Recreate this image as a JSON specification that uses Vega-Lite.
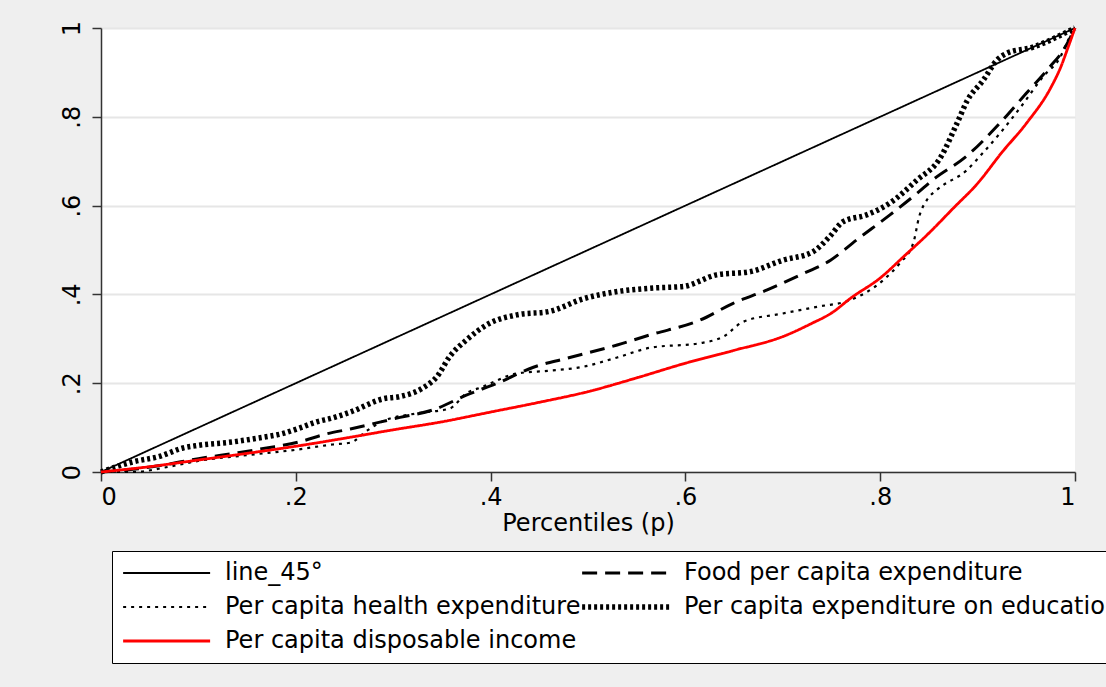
{
  "$schema": "https://vega.github.io/schema/vega-lite/v6.json",
  "width": 974,
  "height": 444,
  "autosize": {"type": "none"},
  "padding": {"left": 101, "top": 28, "right": 31, "bottom": 215},
  "background": "#efefef",
  "config": {
    "view": {"stroke": null, "fill": "white"},
    "font": "DejaVu Sans",
    "axis": {"labelFont": "DejaVu Sans", "titleFont": "DejaVu Sans", "labelColor": "black", "titleColor": "black", "domainColor": "#333333", "tickColor": "#333333", "tickSize": 9, "domainWidth": 1.5, "tickWidth": 1.5}
  },
  "data": {"values": [
    {"p": 0, "v": 0, "s": "line_45°"}, {"p": 1, "v": 1, "s": "line_45°"},

    {"p": 0, "v": 0, "s": "Food per capita expenditure"},
    {"p": 0.033, "v": 0.006, "s": "Food per capita expenditure"},
    {"p": 0.07, "v": 0.018, "s": "Food per capita expenditure"},
    {"p": 0.1, "v": 0.03, "s": "Food per capita expenditure"},
    {"p": 0.136, "v": 0.042, "s": "Food per capita expenditure"},
    {"p": 0.17, "v": 0.054, "s": "Food per capita expenditure"},
    {"p": 0.204, "v": 0.068, "s": "Food per capita expenditure"},
    {"p": 0.23, "v": 0.085, "s": "Food per capita expenditure"},
    {"p": 0.256, "v": 0.097, "s": "Food per capita expenditure"},
    {"p": 0.307, "v": 0.123, "s": "Food per capita expenditure"},
    {"p": 0.341, "v": 0.14, "s": "Food per capita expenditure"},
    {"p": 0.375, "v": 0.173, "s": "Food per capita expenditure"},
    {"p": 0.41, "v": 0.203, "s": "Food per capita expenditure"},
    {"p": 0.444, "v": 0.236, "s": "Food per capita expenditure"},
    {"p": 0.478, "v": 0.256, "s": "Food per capita expenditure"},
    {"p": 0.53, "v": 0.286, "s": "Food per capita expenditure"},
    {"p": 0.564, "v": 0.309, "s": "Food per capita expenditure"},
    {"p": 0.615, "v": 0.342, "s": "Food per capita expenditure"},
    {"p": 0.649, "v": 0.38, "s": "Food per capita expenditure"},
    {"p": 0.684, "v": 0.41, "s": "Food per capita expenditure"},
    {"p": 0.718, "v": 0.444, "s": "Food per capita expenditure"},
    {"p": 0.749, "v": 0.477, "s": "Food per capita expenditure"},
    {"p": 0.776, "v": 0.523, "s": "Food per capita expenditure"},
    {"p": 0.81, "v": 0.579, "s": "Food per capita expenditure"},
    {"p": 0.838, "v": 0.628, "s": "Food per capita expenditure"},
    {"p": 0.854, "v": 0.658, "s": "Food per capita expenditure"},
    {"p": 0.889, "v": 0.712, "s": "Food per capita expenditure"},
    {"p": 0.923, "v": 0.786, "s": "Food per capita expenditure"},
    {"p": 0.95, "v": 0.853, "s": "Food per capita expenditure"},
    {"p": 0.974, "v": 0.912, "s": "Food per capita expenditure"},
    {"p": 0.988, "v": 0.95, "s": "Food per capita expenditure"},
    {"p": 1, "v": 1, "s": "Food per capita expenditure"},

    {"p": 0, "v": 0, "s": "Per capita health expenditure"},
    {"p": 0.033, "v": 0.0, "s": "Per capita health expenditure"},
    {"p": 0.07, "v": 0.012, "s": "Per capita health expenditure"},
    {"p": 0.1, "v": 0.025, "s": "Per capita health expenditure"},
    {"p": 0.15, "v": 0.038, "s": "Per capita health expenditure"},
    {"p": 0.2, "v": 0.05, "s": "Per capita health expenditure"},
    {"p": 0.238, "v": 0.062, "s": "Per capita health expenditure"},
    {"p": 0.256, "v": 0.066, "s": "Per capita health expenditure"},
    {"p": 0.273, "v": 0.093, "s": "Per capita health expenditure"},
    {"p": 0.29, "v": 0.115, "s": "Per capita health expenditure"},
    {"p": 0.324, "v": 0.132, "s": "Per capita health expenditure"},
    {"p": 0.358, "v": 0.143, "s": "Per capita health expenditure"},
    {"p": 0.375, "v": 0.177, "s": "Per capita health expenditure"},
    {"p": 0.392, "v": 0.192, "s": "Per capita health expenditure"},
    {"p": 0.427, "v": 0.222, "s": "Per capita health expenditure"},
    {"p": 0.46, "v": 0.228, "s": "Per capita health expenditure"},
    {"p": 0.495, "v": 0.237, "s": "Per capita health expenditure"},
    {"p": 0.53, "v": 0.258, "s": "Per capita health expenditure"},
    {"p": 0.564, "v": 0.28, "s": "Per capita health expenditure"},
    {"p": 0.615, "v": 0.29, "s": "Per capita health expenditure"},
    {"p": 0.639, "v": 0.305, "s": "Per capita health expenditure"},
    {"p": 0.659, "v": 0.338, "s": "Per capita health expenditure"},
    {"p": 0.7, "v": 0.357, "s": "Per capita health expenditure"},
    {"p": 0.735, "v": 0.372, "s": "Per capita health expenditure"},
    {"p": 0.769, "v": 0.387, "s": "Per capita health expenditure"},
    {"p": 0.803, "v": 0.432, "s": "Per capita health expenditure"},
    {"p": 0.82, "v": 0.47, "s": "Per capita health expenditure"},
    {"p": 0.834, "v": 0.516, "s": "Per capita health expenditure"},
    {"p": 0.84, "v": 0.575, "s": "Per capita health expenditure"},
    {"p": 0.848, "v": 0.613, "s": "Per capita health expenditure"},
    {"p": 0.858, "v": 0.635, "s": "Per capita health expenditure"},
    {"p": 0.889, "v": 0.68, "s": "Per capita health expenditure"},
    {"p": 0.906, "v": 0.72, "s": "Per capita health expenditure"},
    {"p": 0.923, "v": 0.763, "s": "Per capita health expenditure"},
    {"p": 0.947, "v": 0.83, "s": "Per capita health expenditure"},
    {"p": 0.967, "v": 0.89, "s": "Per capita health expenditure"},
    {"p": 0.985, "v": 0.935, "s": "Per capita health expenditure"},
    {"p": 0.993, "v": 0.973, "s": "Per capita health expenditure"},
    {"p": 1, "v": 1, "s": "Per capita health expenditure"},

    {"p": 0, "v": 0, "s": "Per capita expenditure on education"},
    {"p": 0.033, "v": 0.023, "s": "Per capita expenditure on education"},
    {"p": 0.06, "v": 0.035, "s": "Per capita expenditure on education"},
    {"p": 0.084, "v": 0.054, "s": "Per capita expenditure on education"},
    {"p": 0.1, "v": 0.06, "s": "Per capita expenditure on education"},
    {"p": 0.136, "v": 0.068, "s": "Per capita expenditure on education"},
    {"p": 0.16, "v": 0.076, "s": "Per capita expenditure on education"},
    {"p": 0.187, "v": 0.087, "s": "Per capita expenditure on education"},
    {"p": 0.205, "v": 0.1, "s": "Per capita expenditure on education"},
    {"p": 0.22, "v": 0.112, "s": "Per capita expenditure on education"},
    {"p": 0.238, "v": 0.122, "s": "Per capita expenditure on education"},
    {"p": 0.256, "v": 0.135, "s": "Per capita expenditure on education"},
    {"p": 0.29, "v": 0.165, "s": "Per capita expenditure on education"},
    {"p": 0.307, "v": 0.17, "s": "Per capita expenditure on education"},
    {"p": 0.331, "v": 0.19, "s": "Per capita expenditure on education"},
    {"p": 0.345, "v": 0.215, "s": "Per capita expenditure on education"},
    {"p": 0.358, "v": 0.26, "s": "Per capita expenditure on education"},
    {"p": 0.375, "v": 0.297, "s": "Per capita expenditure on education"},
    {"p": 0.399, "v": 0.335, "s": "Per capita expenditure on education"},
    {"p": 0.427, "v": 0.354, "s": "Per capita expenditure on education"},
    {"p": 0.461, "v": 0.362, "s": "Per capita expenditure on education"},
    {"p": 0.495, "v": 0.39, "s": "Per capita expenditure on education"},
    {"p": 0.529, "v": 0.406, "s": "Per capita expenditure on education"},
    {"p": 0.564, "v": 0.414, "s": "Per capita expenditure on education"},
    {"p": 0.598, "v": 0.418, "s": "Per capita expenditure on education"},
    {"p": 0.632, "v": 0.444, "s": "Per capita expenditure on education"},
    {"p": 0.666, "v": 0.451, "s": "Per capita expenditure on education"},
    {"p": 0.7, "v": 0.477, "s": "Per capita expenditure on education"},
    {"p": 0.731, "v": 0.496, "s": "Per capita expenditure on education"},
    {"p": 0.748, "v": 0.53, "s": "Per capita expenditure on education"},
    {"p": 0.762, "v": 0.564, "s": "Per capita expenditure on education"},
    {"p": 0.786, "v": 0.579, "s": "Per capita expenditure on education"},
    {"p": 0.81, "v": 0.606, "s": "Per capita expenditure on education"},
    {"p": 0.838, "v": 0.658, "s": "Per capita expenditure on education"},
    {"p": 0.861, "v": 0.705, "s": "Per capita expenditure on education"},
    {"p": 0.879, "v": 0.786, "s": "Per capita expenditure on education"},
    {"p": 0.889, "v": 0.835, "s": "Per capita expenditure on education"},
    {"p": 0.906, "v": 0.883, "s": "Per capita expenditure on education"},
    {"p": 0.92, "v": 0.928, "s": "Per capita expenditure on education"},
    {"p": 0.93, "v": 0.943, "s": "Per capita expenditure on education"},
    {"p": 0.957, "v": 0.957, "s": "Per capita expenditure on education"},
    {"p": 0.99, "v": 0.989, "s": "Per capita expenditure on education"},
    {"p": 1, "v": 1, "s": "Per capita expenditure on education"},

    {"p": 0, "v": 0, "s": "Per capita disposable income"},
    {"p": 0.05, "v": 0.012, "s": "Per capita disposable income"},
    {"p": 0.1, "v": 0.027, "s": "Per capita disposable income"},
    {"p": 0.15, "v": 0.042, "s": "Per capita disposable income"},
    {"p": 0.2, "v": 0.058, "s": "Per capita disposable income"},
    {"p": 0.25, "v": 0.076, "s": "Per capita disposable income"},
    {"p": 0.3, "v": 0.095, "s": "Per capita disposable income"},
    {"p": 0.35, "v": 0.113, "s": "Per capita disposable income"},
    {"p": 0.4, "v": 0.135, "s": "Per capita disposable income"},
    {"p": 0.45, "v": 0.157, "s": "Per capita disposable income"},
    {"p": 0.5, "v": 0.181, "s": "Per capita disposable income"},
    {"p": 0.55, "v": 0.212, "s": "Per capita disposable income"},
    {"p": 0.6, "v": 0.245, "s": "Per capita disposable income"},
    {"p": 0.65, "v": 0.274, "s": "Per capita disposable income"},
    {"p": 0.7, "v": 0.305, "s": "Per capita disposable income"},
    {"p": 0.73, "v": 0.335, "s": "Per capita disposable income"},
    {"p": 0.75, "v": 0.358, "s": "Per capita disposable income"},
    {"p": 0.77, "v": 0.392, "s": "Per capita disposable income"},
    {"p": 0.8, "v": 0.437, "s": "Per capita disposable income"},
    {"p": 0.825, "v": 0.487, "s": "Per capita disposable income"},
    {"p": 0.85, "v": 0.538, "s": "Per capita disposable income"},
    {"p": 0.875, "v": 0.594, "s": "Per capita disposable income"},
    {"p": 0.9, "v": 0.65, "s": "Per capita disposable income"},
    {"p": 0.925, "v": 0.72, "s": "Per capita disposable income"},
    {"p": 0.95, "v": 0.785, "s": "Per capita disposable income"},
    {"p": 0.975, "v": 0.865, "s": "Per capita disposable income"},
    {"p": 0.985, "v": 0.91, "s": "Per capita disposable income"},
    {"p": 0.993, "v": 0.957, "s": "Per capita disposable income"},
    {"p": 1, "v": 1, "s": "Per capita disposable income"}
  ]},
  "mark": {"type": "line", "interpolate": "monotone"},
  "encoding": {
    "x": {"field": "p", "type": "quantitative", "scale": {"domain": [0, 1], "nice": false},
      "axis": {"values": [0, 0.2, 0.4, 0.6, 0.8, 1], "grid": false, "title": "Percentiles (p)", "titleFontSize": 24, "titleFontWeight": "normal", "labelFontSize": 24, "labelPadding": 4, "titlePadding": 2,
        "labelExpr": "replace(format(datum.value, '.1~f'), '0.', '.')"}},
    "y": {"field": "v", "type": "quantitative", "scale": {"domain": [0, 1], "nice": false},
      "axis": {"values": [0, 0.2, 0.4, 0.6, 0.8, 1], "grid": true, "gridColor": "#e6e6e6", "gridWidth": 2, "title": null, "labelFontSize": 24, "labelAngle": 270, "labelPadding": 8,
        "labelExpr": "replace(format(datum.value, '.1~f'), '0.', '.')"}},
    "color": {"field": "s", "type": "nominal",
      "scale": {"domain": ["line_45°", "Per capita health expenditure", "Per capita disposable income", "Food per capita expenditure", "Per capita expenditure on education"],
        "range": ["black", "black", "#ff0000", "black", "black"]},
      "legend": {"title": null, "orient": "none", "legendX": 11, "legendY": 523, "direction": "vertical", "columns": 2,
        "fillColor": "white", "strokeColor": "black", "padding": 10, "symbolType": "M-1,0H7", "symbolSize": 473,
        "labelFont": "DejaVu Sans", "labelFontSize": 24, "labelColor": "black", "labelOffset": 79, "rowPadding": 10, "columnPadding": -60, "labelLimit": 0,
        "encode": {"symbols": {"update": {"strokeWidth": {"signal": "datum.value === 'Per capita expenditure on education' ? 5.5 : datum.value === 'Food per capita expenditure' ? 3 : datum.value === 'Per capita disposable income' ? 2.8 : 2"}}}}}},
    "strokeDash": {"field": "s", "type": "nominal",
      "scale": {"domain": ["line_45°", "Per capita health expenditure", "Per capita disposable income", "Food per capita expenditure", "Per capita expenditure on education"],
        "range": [[1, 0], [3, 5], [1, 0], [15, 8], [3, 3]]}},
    "strokeWidth": {"condition": [
        {"test": "datum.s === 'Per capita expenditure on education'", "value": 5.5},
        {"test": "datum.s === 'Food per capita expenditure'", "value": 3},
        {"test": "datum.s === 'Per capita disposable income'", "value": 2.8},
        {"test": "datum.s === 'Per capita health expenditure'", "value": 2.2}
      ], "value": 1.8},
    "order": {"field": "p", "type": "quantitative"}
  }
}
